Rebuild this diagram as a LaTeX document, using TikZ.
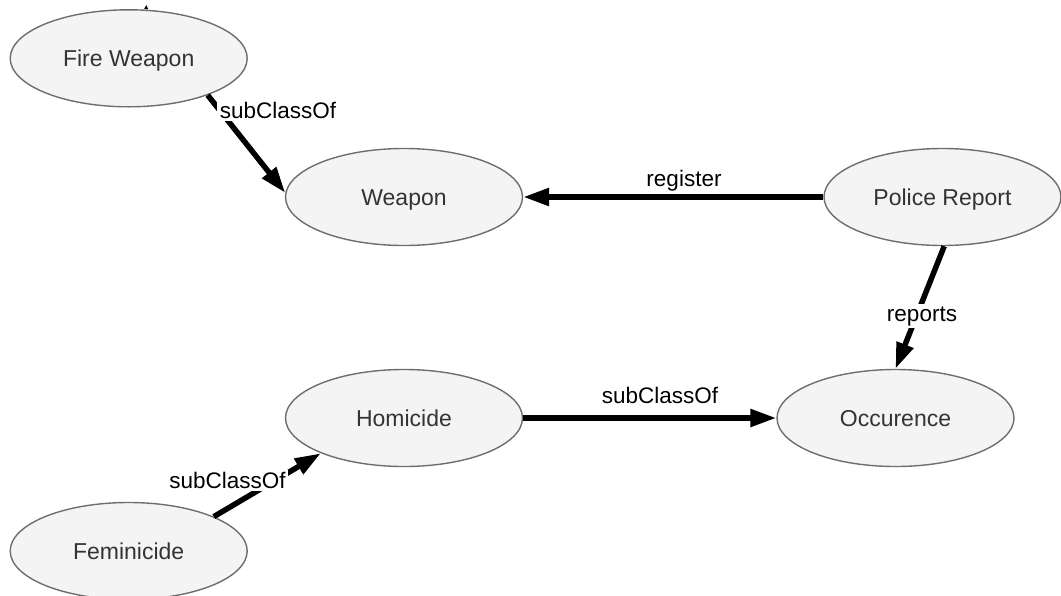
\documentclass[tikz,border=0pt]{standalone}
\usepackage{fontspec}
\setmainfont{Liberation Sans}
\usetikzlibrary{arrows.meta,shapes.geometric}

\definecolor{nodefill}{HTML}{F4F4F4}
\definecolor{nodeline}{HTML}{6E6E6E}
\definecolor{nodetext}{HTML}{333333}

\tikzset{
  concept/.style={ellipse, draw=nodeline, line width=1.4pt, fill=nodefill,
    minimum width=237pt, minimum height=97pt, inner sep=0pt,
    text=nodetext, font=\fontsize{23pt}{27pt}\selectfont,
    text height=16.5pt, text depth=0pt},
  relation/.style={line width=5.5pt, -{Triangle[length=26pt,width=17pt]}},
  lbl/.style={fill=white, inner sep=2.5pt, text=black, anchor=base,
    font=\fontsize{22.5pt}{26pt}\selectfont}
}

\begin{document}
\begin{tikzpicture}[x=1pt, y=-1pt]
  \useasboundingbox (0,0) rectangle (1061,595);

  % classes
  \node[concept] (fw)  at (128.7, 58.3) {Fire Weapon};
  \node[concept] (w)   at (404, 197)    {Weapon};
  \node[concept] (pr)  at (942.5, 197)  {Police Report};
  \node[concept] (hom) at (404, 418)    {Homicide};
  \node[concept] (occ) at (895.5, 418)  {Occurence};
  \node[concept] (fem) at (128.7, 551)  {Feminicide};

  % tip of an incoming edge on the top border of Fire Weapon
  \coordinate (intip) at (146.2, 5.2);
  \fill (intip) -- ++(2.2,4) -- ++(-4.4,0) -- cycle;

  % relations
  \draw[relation] (fw.-25)   -- (w.178);
  \draw[relation] (pr.west)  -- (w.east);
  \draw[relation] (pr.-88)   -- (occ.90.5);
  \draw[relation] (hom.east) -- (occ.west);
  \draw[relation] (fem.22)   -- (hom.-157.7);

  % relation labels
  \node[lbl] (l1) at (278, 118.3) {subClassOf};
  \node[lbl] (l2) at (684, 186)   {register};
  \node[lbl] (l3) at (922, 321)   {reports};
  \node[lbl] (l4) at (660, 403.3) {subClassOf};
  \node[lbl] (l5) at (227.5, 488.3) {subClassOf};
\end{tikzpicture}
\end{document}
